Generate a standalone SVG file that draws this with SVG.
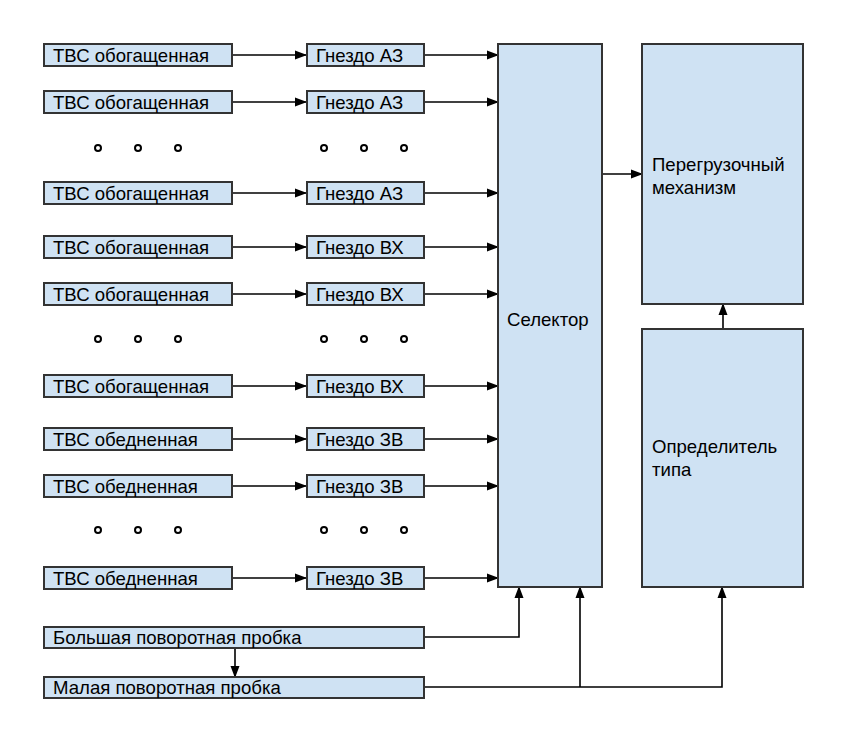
<svg xmlns="http://www.w3.org/2000/svg" width="843" height="735" viewBox="0 0 843 735">
<defs>
<marker id="ah" markerUnits="userSpaceOnUse" markerWidth="12" markerHeight="10" refX="11" refY="5" orient="auto">
<path d="M0,0.5 L12,5 L0,9.5 z" fill="#000"/>
</marker>
<style>
.box{fill:#cfe2f3;stroke:#333;stroke-width:2}
.t{font-family:"Liberation Sans",Arial,sans-serif;font-size:18.6px;fill:#000}
.c{fill:none;stroke:#000;stroke-width:1.6}
.a{marker-end:url(#ah)}
.dot{fill:#fff;stroke:#000;stroke-width:2}
</style>
</defs>
<rect width="843" height="735" fill="#fff"/>
<g id="connectors">
<path class="c a" d="M233,55 H306"/><path class="c a" d="M424,55 H498"/>
<path class="c a" d="M233,102 H306"/><path class="c a" d="M424,102 H498"/>
<path class="c a" d="M233,193 H306"/><path class="c a" d="M424,193 H498"/>
<path class="c a" d="M233,247 H306"/><path class="c a" d="M424,247 H498"/>
<path class="c a" d="M233,294 H306"/><path class="c a" d="M424,294 H498"/>
<path class="c a" d="M233,386 H306"/><path class="c a" d="M424,386 H498"/>
<path class="c a" d="M233,439 H306"/><path class="c a" d="M424,439 H498"/>
<path class="c a" d="M233,486 H306"/><path class="c a" d="M424,486 H498"/>
<path class="c a" d="M233,578 H306"/><path class="c a" d="M424,578 H498"/>
<path class="c a" d="M602,174 H642"/>
<path class="c a" d="M723,329 V304"/>
<path class="c a" d="M424,637 H519 V587"/>
<path class="c a" d="M235,648 V677"/>
<path class="c a" d="M424,687 H722 V587"/>
<path class="c a" d="M580,687 V587"/>
</g>
<g id="dots">
<circle class="dot" cx="98" cy="148" r="3"/><circle class="dot" cx="138" cy="148" r="3"/><circle class="dot" cx="178" cy="148" r="3"/>
<circle class="dot" cx="324" cy="148" r="3"/><circle class="dot" cx="364" cy="148" r="3"/><circle class="dot" cx="404" cy="148" r="3"/>
<circle class="dot" cx="98" cy="339" r="3"/><circle class="dot" cx="138" cy="339" r="3"/><circle class="dot" cx="178" cy="339" r="3"/>
<circle class="dot" cx="324" cy="339" r="3"/><circle class="dot" cx="364" cy="339" r="3"/><circle class="dot" cx="404" cy="339" r="3"/>
<circle class="dot" cx="98" cy="530" r="3"/><circle class="dot" cx="138" cy="530" r="3"/><circle class="dot" cx="178" cy="530" r="3"/>
<circle class="dot" cx="324" cy="530" r="3"/><circle class="dot" cx="364" cy="530" r="3"/><circle class="dot" cx="404" cy="530" r="3"/>
</g>
<g id="tvs1"><rect class="box" x="44" y="44" width="188" height="22"/><text class="t" x="53" y="62">ТВС обогащенная</text></g>
<g id="tvs2"><rect class="box" x="44" y="91" width="188" height="22"/><text class="t" x="53" y="109">ТВС обогащенная</text></g>
<g id="tvs3"><rect class="box" x="44" y="182" width="188" height="22"/><text class="t" x="53" y="200">ТВС обогащенная</text></g>
<g id="tvs4"><rect class="box" x="44" y="236" width="188" height="22"/><text class="t" x="53" y="254">ТВС обогащенная</text></g>
<g id="tvs5"><rect class="box" x="44" y="283" width="188" height="22"/><text class="t" x="53" y="301">ТВС обогащенная</text></g>
<g id="tvs6"><rect class="box" x="44" y="375" width="188" height="22"/><text class="t" x="53" y="393">ТВС обогащенная</text></g>
<g id="tvs7"><rect class="box" x="44" y="428" width="188" height="22"/><text class="t" x="53" y="446">ТВС обедненная</text></g>
<g id="tvs8"><rect class="box" x="44" y="475" width="188" height="22"/><text class="t" x="53" y="493">ТВС обедненная</text></g>
<g id="tvs9"><rect class="box" x="44" y="567" width="188" height="22"/><text class="t" x="53" y="585">ТВС обедненная</text></g>
<g id="g1"><rect class="box" x="307" y="44" width="117" height="22"/><text class="t" x="316" y="62">Гнездо АЗ</text></g>
<g id="g2"><rect class="box" x="307" y="91" width="117" height="22"/><text class="t" x="316" y="109">Гнездо АЗ</text></g>
<g id="g3"><rect class="box" x="307" y="182" width="117" height="22"/><text class="t" x="316" y="200">Гнездо АЗ</text></g>
<g id="g4"><rect class="box" x="307" y="236" width="117" height="22"/><text class="t" x="316" y="254">Гнездо ВХ</text></g>
<g id="g5"><rect class="box" x="307" y="283" width="117" height="22"/><text class="t" x="316" y="301">Гнездо ВХ</text></g>
<g id="g6"><rect class="box" x="307" y="375" width="117" height="22"/><text class="t" x="316" y="393">Гнездо ВХ</text></g>
<g id="g7"><rect class="box" x="307" y="428" width="117" height="22"/><text class="t" x="316" y="446">Гнездо ЗВ</text></g>
<g id="g8"><rect class="box" x="307" y="475" width="117" height="22"/><text class="t" x="316" y="493">Гнездо ЗВ</text></g>
<g id="g9"><rect class="box" x="307" y="567" width="117" height="22"/><text class="t" x="316" y="585">Гнездо ЗВ</text></g>
<g id="selector"><rect class="box" x="498" y="44" width="104" height="543"/><text class="t" x="507" y="326">Селектор</text></g>
<g id="reloader"><rect class="box" x="642" y="44" width="161" height="260"/><text class="t" x="652" y="171">Перегрузочный</text><text class="t" x="652" y="194">механизм</text></g>
<g id="typedet"><rect class="box" x="642" y="329" width="161" height="258"/><text class="t" x="652" y="453">Определитель</text><text class="t" x="652" y="476">типа</text></g>
<g id="big"><rect class="box" x="44" y="627" width="380" height="21"/><text class="t" x="53" y="644">Большая поворотная пробка</text></g>
<g id="small"><rect class="box" x="44" y="677" width="380" height="21"/><text class="t" x="53" y="694">Малая поворотная пробка</text></g>
</svg>
